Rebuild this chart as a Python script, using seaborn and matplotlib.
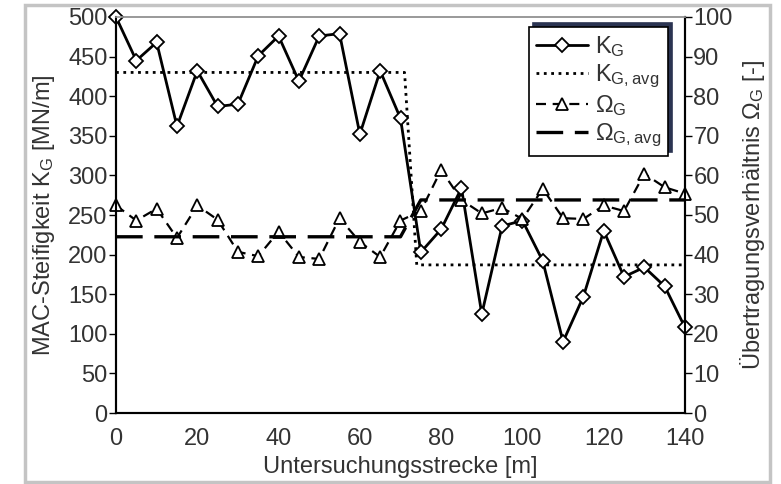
import numpy as np
import pandas as pd
import matplotlib
matplotlib.use('Agg')
import matplotlib.pyplot as plt
import seaborn as sns
from matplotlib.patches import Rectangle

# data
strecke = [0, 5, 10, 15, 20, 25, 30, 35, 40, 45, 50, 55, 60, 65, 70,
           75, 80, 85, 90, 95, 100, 105, 110, 115, 120, 125, 130, 135, 140]
k_g = [500, 445, 468, 362, 432, 387, 390, 451, 476, 419, 476, 479, 352, 432, 372,
       203, 232, 284, 125, 236, 243, 192, 90, 147, 230, 172, 184, 160, 108]
omega_g = [52.4, 48.6, 51.6, 44.2, 52.4, 48.8, 40.7, 39.6, 45.8, 39.4, 38.9, 49.2, 43.2, 39.4, 48.6,
           51.0, 61.4, 53.8, 50.4, 51.8, 49.0, 56.6, 49.2, 49.0, 52.4, 51.0, 60.4, 57.0, 55.4]

k_avg_x = [0, 71, 74, 140]
k_avg = [430, 430, 187, 187]
omega_avg_x = [0, 70, 75, 140]
omega_avg = [44.5, 44.5, 53.8, 53.8]

df = pd.DataFrame({'Strecke': strecke, 'K_G': k_g, 'Omega_G': omega_g})

sns.set_style('white')
plt.rcParams['font.family'] = ['Liberation Sans Narrow', 'Liberation Sans', 'DejaVu Sans']
plt.rcParams['mathtext.fontset'] = 'custom'
plt.rcParams['mathtext.rm'] = 'Liberation Sans Narrow'
plt.rcParams['mathtext.it'] = 'Liberation Sans Narrow'
plt.rcParams['mathtext.default'] = 'regular'
txt = '#333333'
fs = 17

fig = plt.figure(figsize=(7.81, 4.84), dpi=100)
ax = fig.add_axes([116/781, 1-413/484, (685-116)/781, (413-17)/484])
ax2 = ax.twinx()

sns.lineplot(data=df, x='Strecke', y='K_G', ax=ax, color='black', lw=2,
             marker='D', markersize=7, markerfacecolor='white', markeredgecolor='black',
             markeredgewidth=1.3, clip_on=False, label=r'$K_G$', legend=False, zorder=5)
sns.lineplot(x=k_avg_x, y=k_avg, ax=ax, color='black', lw=2, ls=':',
             label=r'$K_{G,avg}$', legend=False)
sns.lineplot(data=df, x='Strecke', y='Omega_G', ax=ax2, color='black', lw=1.6,
             marker='^', markersize=9, markerfacecolor='white', markeredgecolor='black',
             markeredgewidth=1.3, dashes=(4.5, 3), clip_on=False, label=r'$\Omega_G$', legend=False)
sns.lineplot(x=omega_avg_x, y=omega_avg, ax=ax2, color='black', lw=2.4,
             dashes=(8, 3.5), label=r'$\Omega_{G,avg}$', legend=False)

ax.set_xlim(0, 140)
ax.set_ylim(0, 500)
ax2.set_ylim(0, 100)
ax.set_xticks(np.arange(0, 141, 20))
ax.set_yticks(np.arange(0, 501, 50))
ax2.set_yticks(np.arange(0, 101, 10))

ax.set_xlabel('Untersuchungsstrecke [m]', fontsize=fs, color=txt, labelpad=4)
ax.set_ylabel(r'MAC-Steifigkeit $K_G$ [MN/m]', fontsize=fs, color=txt, labelpad=8)
ax2.set_ylabel(r'Übertragungsverhältnis $\Omega_G$ [-]', fontsize=fs, color=txt, labelpad=4)

for a in (ax, ax2):
    a.tick_params(axis='both', labelsize=fs, labelcolor=txt, colors='black',
                  direction='out', length=5, width=1, pad=1)
    for side in ('left', 'right', 'bottom'):
        a.spines[side].set_color('black')
        a.spines[side].set_linewidth(1.5)
    a.spines['top'].set_color('#999999')
    a.spines['top'].set_linewidth(1.2)
ax.tick_params(axis='x', pad=6)

h1, l1 = ax.get_legend_handles_labels()
h2, l2 = ax2.get_legend_handles_labels()
leg = ax2.legend(h1 + h2, l1 + l2, loc='upper right', bbox_to_anchor=(0.97, 0.975),
                 borderaxespad=0, fontsize=fs, frameon=True, fancybox=False, framealpha=1,
                 edgecolor='black', handlelength=2.2, handletextpad=0.3,
                 borderpad=0.3, labelspacing=0.15,
                 shadow={'ox': 3, 'oy': 3, 'color': '#2b3452', 'alpha': 1})
leg.get_frame().set_linewidth(1.2)
for t in leg.get_texts():
    t.set_color(txt)

# light grey frame around the picture
fig.patches.append(Rectangle((25/781, 2/484), 745/781, 477/484, transform=fig.transFigure,
                             fill=False, edgecolor='#c4c4c4', lw=2.5, zorder=0))

fig.savefig('out.png', dpi=100)
